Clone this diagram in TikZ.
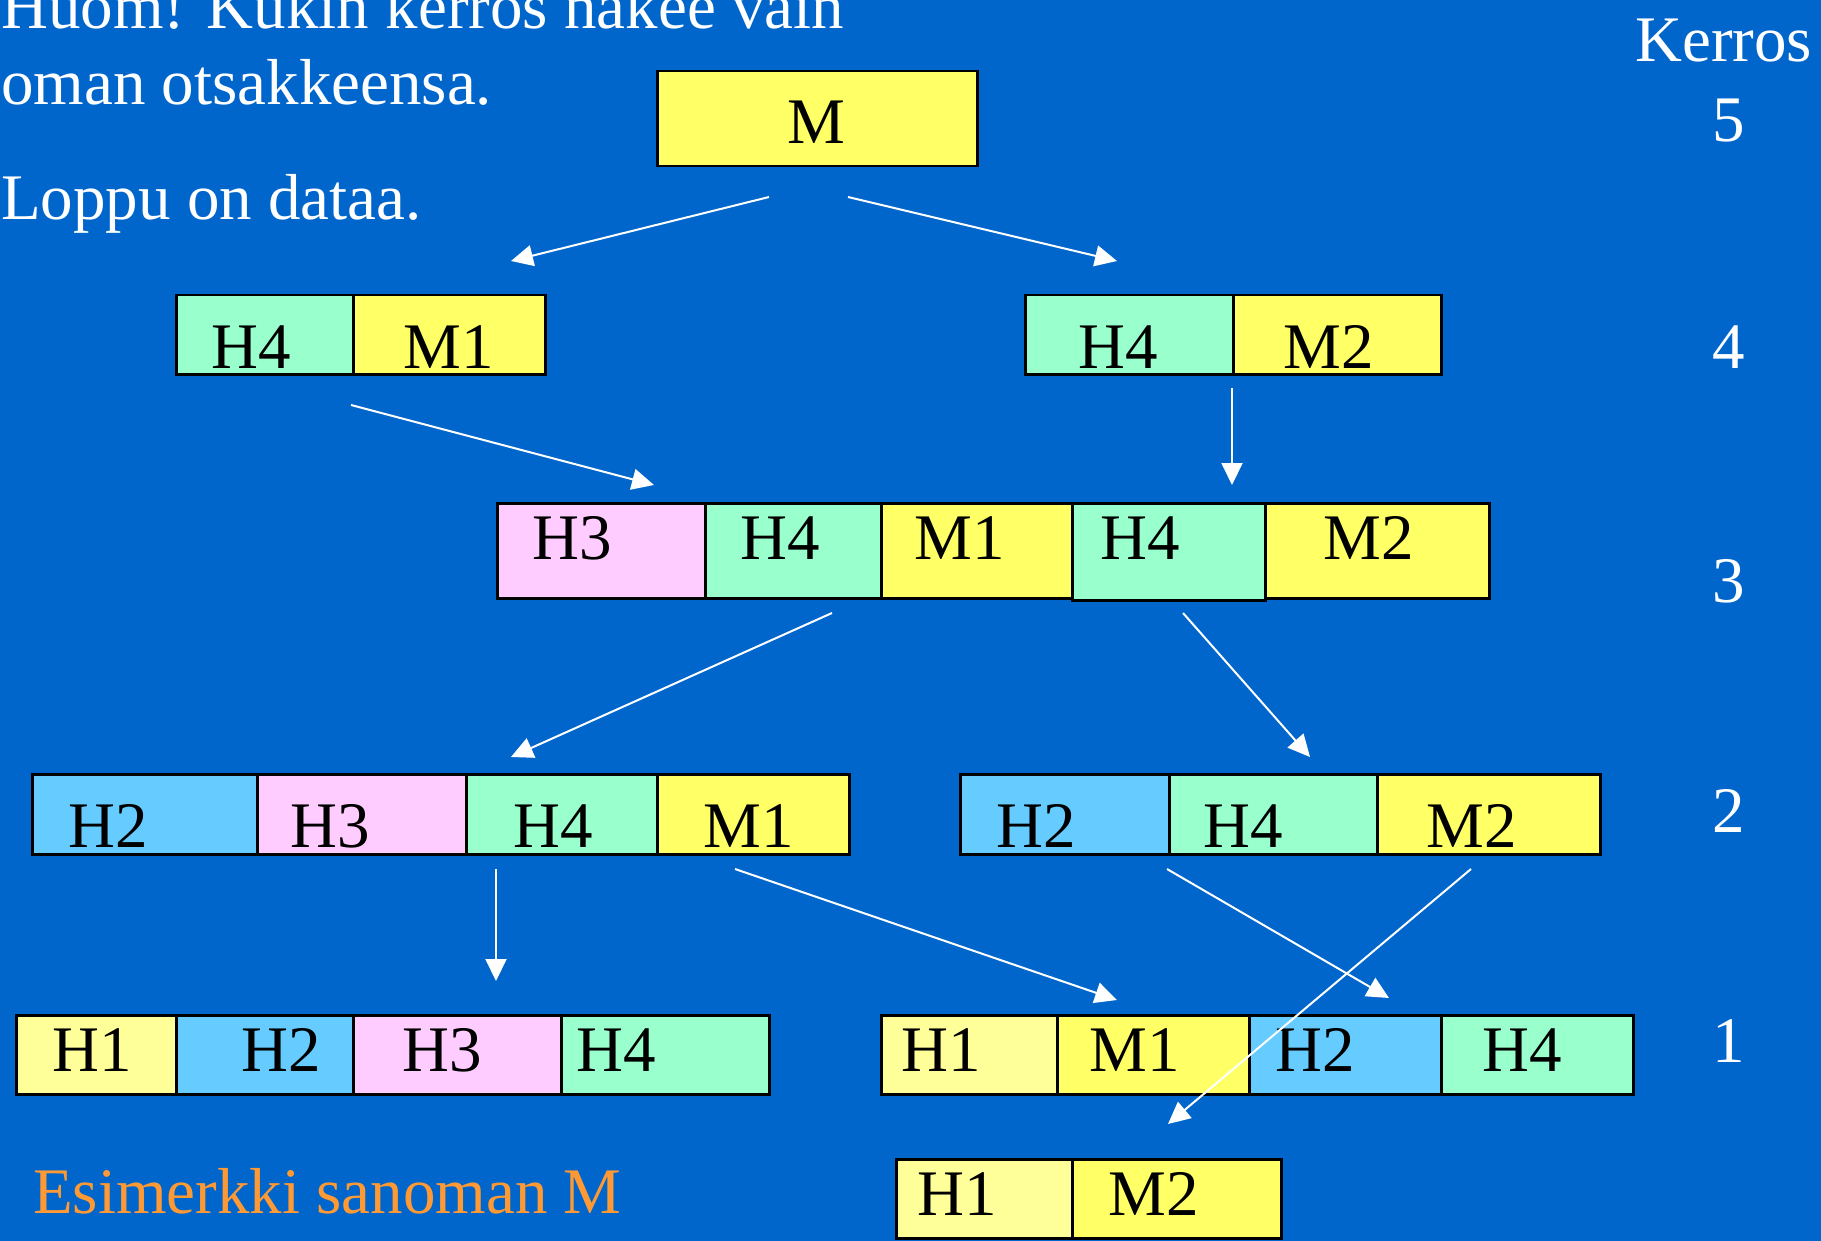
\documentclass[tikz,border=0pt]{standalone}
\usepackage{fontspec}
\setmainfont{Liberation Serif}
\usetikzlibrary{arrows.meta}
\setlength{\parindent}{0pt}
\definecolor{slideblue}{HTML}{0066CC}
\definecolor{yel}{HTML}{FFFF66}
\definecolor{lyel}{HTML}{FFFF99}
\definecolor{grn}{HTML}{99FFCC}
\definecolor{pnk}{HTML}{FFCCFF}
\definecolor{blu}{HTML}{66CCFF}
\definecolor{orng}{HTML}{FF9933}
\newcommand{\slidefont}{\fontsize{65}{76}\selectfont}
\tikzset{
  cell/.style={draw=black,line width=2.5pt,anchor=north west,inner xsep=0pt,inner ysep=0pt,align=left,font=\slidefont},
  r5/.style={text height=72pt,text depth=23pt},
  r4/.style={text height=73pt,text depth=6pt},
  r3/.style={text height=56pt,text depth=39pt},
  r2/.style={text height=73pt,text depth=7pt},
  r1/.style={text height=56pt,text depth=23pt},
  pil/.style={white,line width=2pt,-{Triangle[width=21pt,length=22pt]}},
  txt/.style={white,inner sep=0pt,font=\slidefont}
}

\begin{document}
\begin{tikzpicture}[x=1pt,y=-1pt]
\fill[slideblue] (0,0) rectangle (1821,1241);
\useasboundingbox (0,0) rectangle (1821,1241);

\node[txt,anchor=base west] (huom) at (1,29) {Huom! Kukin kerros näkee vain};
\node[txt,anchor=base west] (oman) at (1,105) {oman otsakkeensa.};
\node[txt,anchor=base west] (loppu) at (1,220) {Loppu on dataa.};
\node[txt,anchor=base west,text=orng] (esim) at (33,1213) {Esimerkki sanoman M};

\node[txt,anchor=base west] (kerros) at (1635,62) {Kerros};
\node[txt,anchor=base] (k5) at (1729,142) {5};
\node[txt,anchor=base] (k4) at (1729,369) {4};
\node[txt,anchor=base] (k3) at (1729,602) {3};
\node[txt,anchor=base] (k2) at (1729,832) {2};
\node[txt,anchor=base] (k1) at (1729,1062) {1};

\node[cell,r5,fill=yel,text width=320pt] (m) at (656,70) {\hspace*{130pt}M};

\node[cell,r4,fill=grn,text width=177pt] (c4a) at (175,294) {\hspace*{35pt}H4};
\node[cell,r4,fill=yel,text width=192pt] (c4b) at (352,294) {\hspace*{50pt}M1};
\node[cell,r4,fill=grn,text width=208pt] (c4c) at (1024,294) {\hspace*{53pt}H4};
\node[cell,r4,fill=yel,text width=208pt] (c4d) at (1232,294) {\hspace*{50pt}M2};

\node[cell,r3,fill=pnk,text width=208pt] (c3a) at (496,502) {\hspace*{35pt}H3};
\node[cell,r3,fill=grn,text width=176pt] (c3b) at (704,502) {\hspace*{35pt}H4};
\node[cell,r3,fill=yel,text width=191pt] (c3c) at (880,502) {\hspace*{33pt}M1};
\node[cell,r3,fill=yel,text width=224pt] (c3e) at (1264,502) {\hspace*{58pt}M2};
\node[cell,r3,fill=grn,text width=193pt,text depth=41pt] (c3d) at (1071,502) {\hspace*{28pt}H4};

\node[cell,r2,fill=blu,text width=225pt] (c2a) at (31,773) {\hspace*{36pt}H2};
\node[cell,r2,fill=pnk,text width=209pt] (c2b) at (256,773) {\hspace*{33pt}H3};
\node[cell,r2,fill=grn,text width=191pt] (c2c) at (465,773) {\hspace*{47pt}H4};
\node[cell,r2,fill=yel,text width=192pt] (c2d) at (656,773) {\hspace*{46pt}M1};
\node[cell,r2,fill=blu,text width=209pt] (c2e) at (959,773) {\hspace*{36pt}H2};
\node[cell,r2,fill=grn,text width=208pt] (c2f) at (1168,773) {\hspace*{34pt}H4};
\node[cell,r2,fill=yel,text width=223pt] (c2g) at (1376,773) {\hspace*{49pt}M2};

\node[cell,r1,fill=lyel,text width=160pt] (c1a) at (15,1014) {\hspace*{36pt}H1};
\node[cell,r1,fill=blu,text width=177pt] (c1b) at (175,1014) {\hspace*{65pt}H2};
\node[cell,r1,fill=pnk,text width=208pt] (c1c) at (352,1014) {\hspace*{49pt}H3};
\node[cell,r1,fill=grn,text width=208pt] (c1d) at (560,1014) {\hspace*{15pt}H4};
\node[cell,r1,fill=lyel,text width=176pt] (c1e) at (880,1014) {\hspace*{20pt}H1};
\node[cell,r1,fill=yel,text width=192pt] (c1f) at (1056,1014) {\hspace*{32pt}M1};
\node[cell,r1,fill=blu,text width=192pt] (c1g) at (1248,1014) {\hspace*{26pt}H2};
\node[cell,r1,fill=grn,text width=192pt] (c1h) at (1440,1014) {\hspace*{41pt}H4};

\node[cell,r1,fill=lyel,text width=176pt] (c0a) at (895,1158) {\hspace*{21pt}H1};
\node[cell,r1,fill=yel,text width=209pt] (c0b) at (1071,1158) {\hspace*{36pt}M2};

\coordinate (a1) at (769,197);  \coordinate (b1) at (511,261);
\coordinate (a2) at (848,197);  \coordinate (b2) at (1117,261);
\coordinate (a3) at (351,405);  \coordinate (b3) at (654,485);
\coordinate (a4) at (1232,388); \coordinate (b4) at (1232,485);
\coordinate (a5) at (832,613);  \coordinate (b5) at (511,757);
\coordinate (a6) at (1183,613); \coordinate (b6) at (1310,757);
\coordinate (a7) at (496,869);  \coordinate (b7) at (496,981);
\coordinate (a8) at (735,869);  \coordinate (b8) at (1117,1000);
\coordinate (a9) at (1167,869); \coordinate (b9) at (1389,998);
\coordinate (a10) at (1471,869); \coordinate (b10) at (1168,1124);
\foreach \i in {1,...,10}
  \draw[pil] (a\i) -- (b\i);
\end{tikzpicture}
\end{document}
